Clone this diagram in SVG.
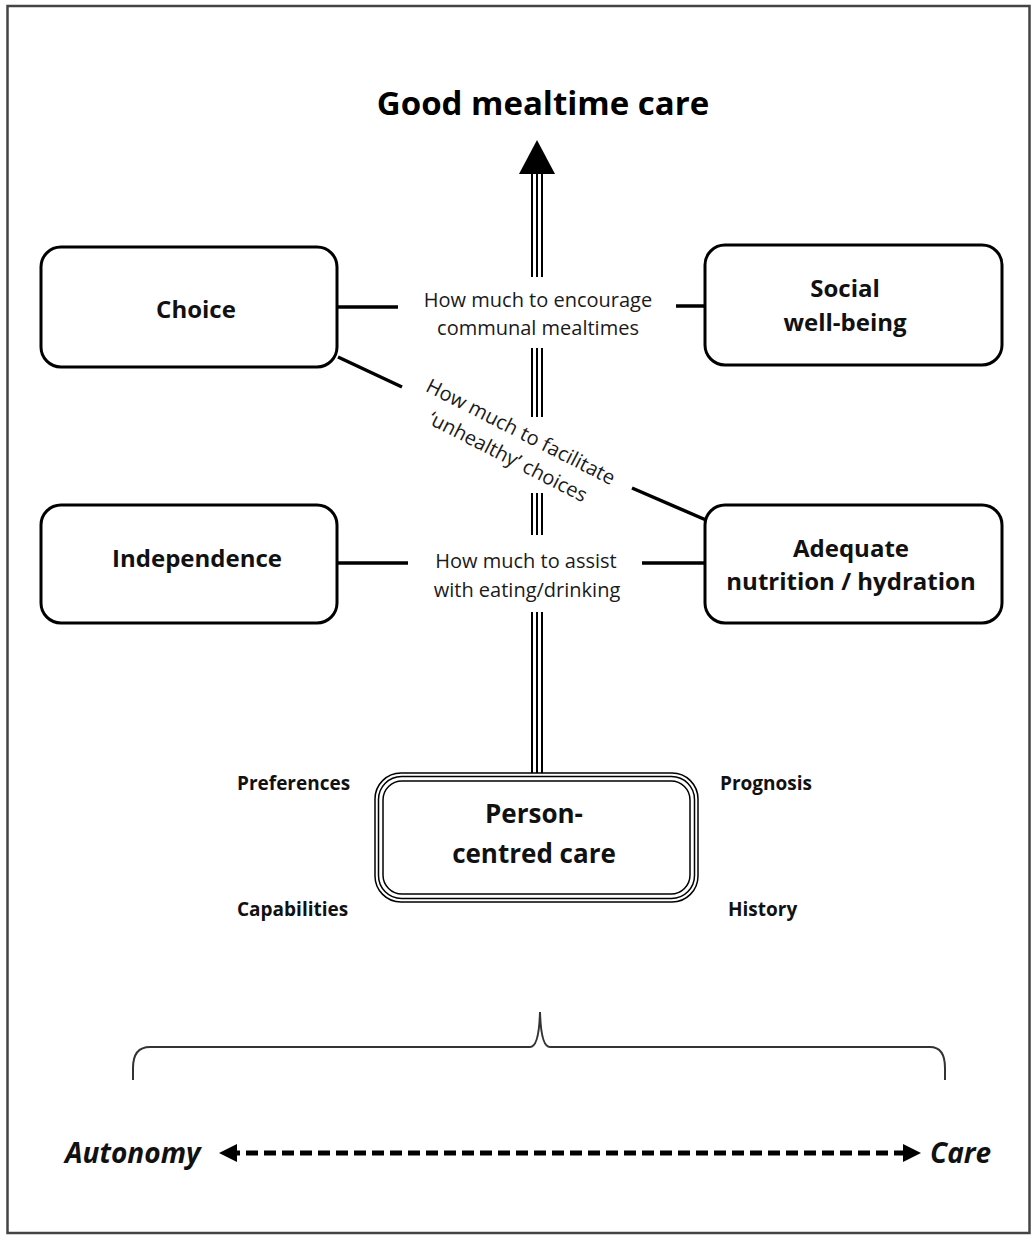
<svg xmlns="http://www.w3.org/2000/svg" width="1033" height="1236" viewBox="0 0 1033 1236">
<style>
.box{fill:#fff;stroke:#000;stroke-width:3}
.nt{font-family:"Open Sans","Liberation Sans",sans-serif;font-weight:700;font-size:24px;fill:#111;text-anchor:middle}
.lb{font-family:"Open Sans","Liberation Sans",sans-serif;font-size:20px;fill:#1a1a1a;text-anchor:middle}
.sd{font-family:"Open Sans","Liberation Sans",sans-serif;font-weight:700;font-size:19px;fill:#111}
.ax{font-family:"Open Sans","Liberation Sans",sans-serif;font-weight:700;font-style:italic;font-size:28px;fill:#111}
.ln{stroke:#000;stroke-width:3.5;fill:none}
</style>
<defs>
<marker id="ah" viewBox="0 0 10 10" refX="5" refY="5" markerWidth="3.6" markerHeight="3.6" orient="auto-start-reverse" markerUnits="strokeWidth">
<path d="M0,0 L10,5 L0,10 z" fill="#000"/>
</marker>
</defs>
<rect x="7.5" y="6" width="1022" height="1227" fill="#fff" stroke="#444" stroke-width="2.5"/>
<g id="title"><text x="543" y="115" style="font-family:'Open Sans','Liberation Sans',sans-serif;font-weight:700;font-size:33px;fill:#000;text-anchor:middle">Good mealtime care</text></g>
<g id="connectors">
<path d="M537,140 L555,174 L519,174 z" fill="#000"/>
<g stroke-linecap="butt">
<path d="M537,174 V277 M537,348 V417 M537,493 V535 M537,612 V774" stroke="#000" stroke-width="12"/>
<path d="M537,174 V277 M537,348 V417 M537,493 V535 M537,612 V774" stroke="#fff" stroke-width="8"/>
<path d="M537,174 V277 M537,348 V417 M537,493 V535 M537,612 V774" stroke="#000" stroke-width="2"/>
</g>
<path class="ln" d="M337,307 H398 M676,306 H705"/>
<path class="ln" d="M338,357 L402,387 M632,488 L706,520"/>
<path class="ln" d="M337,563 H408 M642,563 H705"/>
<path d="M133,1080 V1068 Q133,1047 150,1047 H530 Q539,1047 540,1012 Q541,1047 550,1047 H930 Q945,1047 945,1068 V1080" fill="none" stroke="#333" stroke-width="2"/>
<line x1="228" y1="1153" x2="912" y2="1153" stroke="#000" stroke-width="5" stroke-dasharray="12,6" marker-start="url(#ah)" marker-end="url(#ah)"/>
</g>
<g id="label-communal"><text class="lb" x="538" y="307">How much to encourage</text><text class="lb" x="538" y="335">communal mealtimes</text></g>
<g id="label-unhealthy" transform="translate(514,445) rotate(27)"><text class="lb" x="0" y="-8">How much to facilitate</text><text class="lb" x="0" y="20">‘unhealthy’ choices</text></g>
<g id="label-assist"><text class="lb" x="526" y="568">How much to assist</text><text class="lb" x="527" y="597">with eating/drinking</text></g>
<g id="node-choice"><rect class="box" x="41" y="247" width="296" height="120" rx="20"/><text class="nt" x="196" y="318">Choice</text></g>
<g id="node-social"><rect class="box" x="705" y="245" width="297" height="120" rx="20"/><text class="nt" x="845" y="297">Social</text><text class="nt" x="845" y="331">well-being</text></g>
<g id="node-independence"><rect class="box" x="41" y="505" width="296" height="118" rx="20"/><text class="nt" x="197" y="567">Independence</text></g>
<g id="node-nutrition"><rect class="box" x="705" y="505" width="297" height="118" rx="20"/><text class="nt" x="851" y="557">Adequate</text><text class="nt" x="851" y="590">nutrition / hydration</text></g>
<g id="node-person">
<rect x="375" y="773" width="323" height="129" rx="26" fill="#fff" stroke="#000" stroke-width="1.5"/>
<rect x="378.5" y="776.5" width="316" height="122" rx="23" fill="none" stroke="#000" stroke-width="1.5"/>
<rect x="383" y="781" width="307" height="113" rx="19" fill="none" stroke="#000" stroke-width="1.5"/>
<text class="nt" x="534" y="823" style="font-size:26px">Person-</text><text class="nt" x="534" y="863" style="font-size:26px">centred care</text>
</g>
<g id="side-labels">
<text class="sd" x="237" y="790">Preferences</text>
<text class="sd" x="720" y="790">Prognosis</text>
<text class="sd" x="237" y="916">Capabilities</text>
<text class="sd" x="728" y="916">History</text>
</g>
<g id="axis-labels">
<text class="ax" x="65" y="1163">Autonomy</text>
<text class="ax" x="930" y="1163">Care</text>
</g>
</svg>
